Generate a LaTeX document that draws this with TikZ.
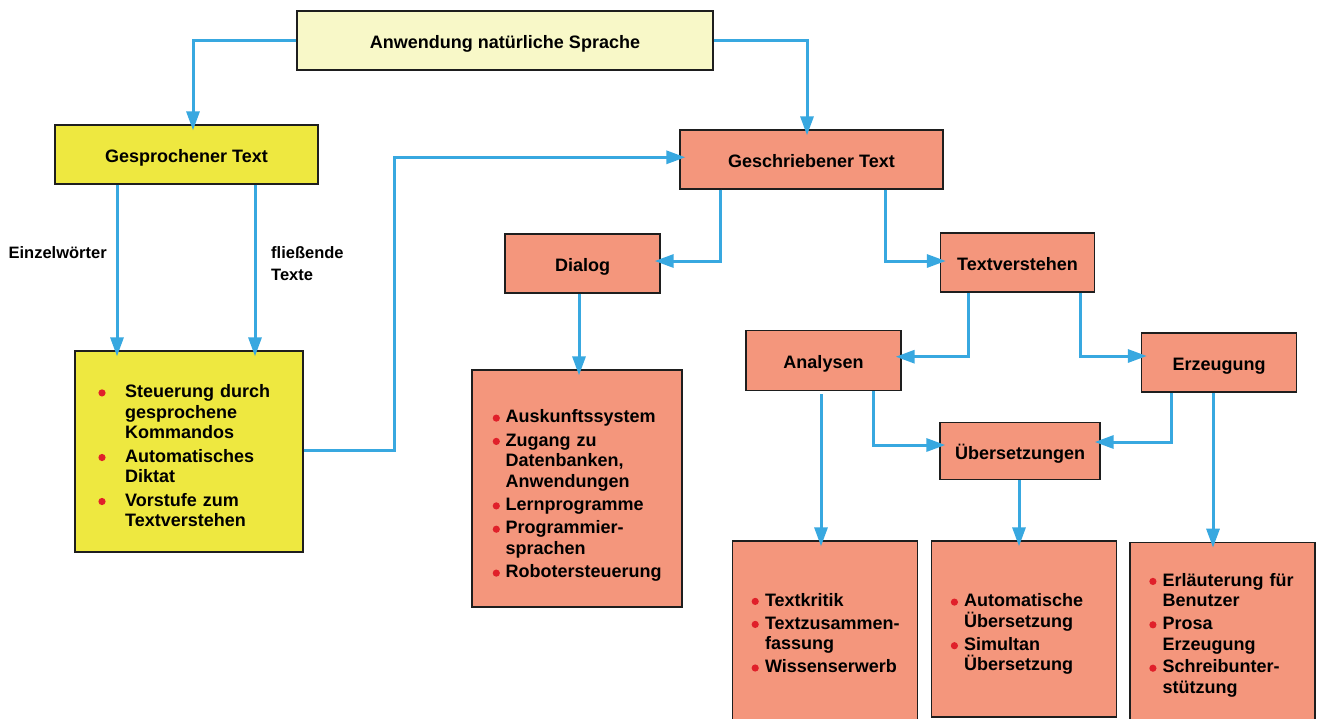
\documentclass[tikz,border=0pt]{standalone}
\usepackage{fontspec}
\setmainfont{Liberation Sans}
\usetikzlibrary{arrows.meta}
\definecolor{topfill}{HTML}{F8F8C8}
\definecolor{yelfill}{HTML}{EEE840}
\definecolor{salfill}{HTML}{F4967C}
\definecolor{connblue}{HTML}{38A8E0}
\definecolor{bulred}{HTML}{E0202A}
\definecolor{edge}{HTML}{1E1E1E}
\newlength\bgap
\newcommand\bitem[1]{\noindent\hangindent=30pt\hangafter=1\hbox to 30pt{\hss\tikz[baseline=-4.6pt]\fill[bulred] (0,0) circle (3.6pt);\hspace{\bgap}}#1\par}
\begin{document}
\begin{tikzpicture}[x=1pt,y=-1pt,
  box/.style={draw=edge, line width=1.3pt, inner sep=0pt, text height=16pt, text depth=0pt, font=\fontsize{18}{21}\selectfont\bfseries},
  conn/.style={draw=connblue, line width=3pt, -{Triangle[length=19pt,width=13pt]}, shorten >=-6pt},
  listtext/.style={anchor=base west, inner sep=0pt, text width=260pt, align=left, font=\fontsize{18}{20.6}\selectfont\bfseries},
  lbl/.style={inner sep=0pt, align=left, font=\fontsize{16.5}{22.3}\selectfont\bfseries}]
\clip (0,0) rectangle (1321,718);
\fill[white] (0,0) rectangle (1321,718);

% boxes
\node[box, fill=topfill, minimum width=416, minimum height=59] (top) at (505,40.5) {Anwendung natürliche Sprache};
\node[box, fill=yelfill, minimum width=263, minimum height=59] (gesp) at (186.5,154.5) {Gesprochener Text};
\node[box, fill=yelfill, minimum width=228, minimum height=201] (ylist) at (189,451.5) {};
\node[box, fill=salfill, minimum width=263, minimum height=59] (gesch) at (811.5,159.5) {Geschriebener Text};
\node[box, fill=salfill, minimum width=155, minimum height=59] (dialog) at (582.5,263.5) {Dialog};
\node[box, fill=salfill, minimum width=210, minimum height=237] (dlist) at (577,488.5) {};
\node[box, fill=salfill, minimum width=154, minimum height=59] (textv) at (1017.5,262.5) {Textverstehen};
\node[box, fill=salfill, minimum width=155, minimum height=60] (analysen) at (823.5,360.7) {Analysen};
\node[box, fill=salfill, minimum width=155, minimum height=59] (erzeug) at (1219,362.5) {Erzeugung};
\node[box, fill=salfill, minimum width=160, minimum height=57] (uebers) at (1020,451) {Übersetzungen};
\node[box, fill=salfill, minimum width=185, minimum height=190] (b1) at (825,636) {};
\node[box, fill=salfill, minimum width=185, minimum height=176] (b2) at (1024,629) {};
\node[box, fill=salfill, minimum width=185, minimum height=190] (b3) at (1222.5,637.3) {};

% list texts
\node[listtext] (ytext) at (95,397.5) {\setlength\parskip{2.8pt}\setlength\bgap{19.6pt}%
\bitem{Steuerung durch\newline gesprochene\newline Kommandos}\bitem{Automatisches\newline Diktat}\bitem{Vorstufe zum\newline Textverstehen}};
\node[listtext] (dtext) at (475.5,422.7) {\setlength\parskip{2.7pt}\setlength\bgap{5.8pt}%
\bitem{Auskunftssystem}\bitem{Zugang zu\newline Datenbanken,\newline Anwendungen}\bitem{Lernprogramme}\bitem{Programmier-\newline sprachen}\bitem{Robotersteuerung}};
\node[listtext] (t1) at (734.8,606) {\setlength\parskip{2.4pt}\setlength\bgap{6.2pt}%
\bitem{Textkritik}\bitem{Textzusammen-\newline fassung}\bitem{Wissenserwerb}};
\node[listtext] (t2) at (934,606.7) {\setlength\parskip{2.4pt}\setlength\bgap{6.2pt}%
\bitem{Automatische\newline Übersetzung}\bitem{Simultan\newline Übersetzung}};
\node[listtext] (t3) at (1132.5,586) {\setlength\parskip{2.2pt}\setlength\bgap{6.2pt}%
\bitem{Erläuterung für\newline Benutzer}\bitem{Prosa\newline Erzeugung}\bitem{Schreibunter-\newline stützung}};

% labels
\node[lbl, anchor=base west] (l1) at (8.4,258) {Einzelwörter};
\node[lbl, anchor=base west] (l2) at (271,280.3) {fließende\\Texte};

% connectors
\draw[conn] (top.west) -| (gesp.north -| 193,0);
\draw[conn] (top.east) -| (gesch.north -| 807,0);
\draw[conn] (gesp.south -| 117,0) -- (ylist.north -| 117,0);
\draw[conn] (gesp.south -| 255,0) -- (ylist.north -| 255,0);
\draw[conn] (ylist.east |- 0,450.7) -- (394,450.7) |- (gesch.west |- 0,157.3);
\draw[conn] (gesch.south -| 720,0) |- (dialog.east |- 0,261);
\draw[conn] (gesch.south -| 885.5,0) |- (textv.west |- 0,261);
\draw[conn] (dialog.south -| 579,0) -- (dlist.north -| 579,0);
\draw[conn] (textv.south -| 968,0) |- (analysen.east |- 0,356.7);
\draw[conn] (textv.south -| 1080,0) |- (erzeug.west |- 0,356);
\draw[conn] (analysen.south -| 873,0) |- (uebers.west |- 0,445);
\draw[conn] (erzeug.south -| 1171,0) |- (uebers.east |- 0,442);
\draw[conn, shorten <=3pt] (analysen.south -| 821,0) -- (b1.north -| 821,0);
\draw[conn] (uebers.south -| 1019,0) -- (b2.north -| 1019,0);
\draw[conn] (erzeug.south -| 1213,0) -- (b3.north -| 1213,0);
\end{tikzpicture}
\end{document}
